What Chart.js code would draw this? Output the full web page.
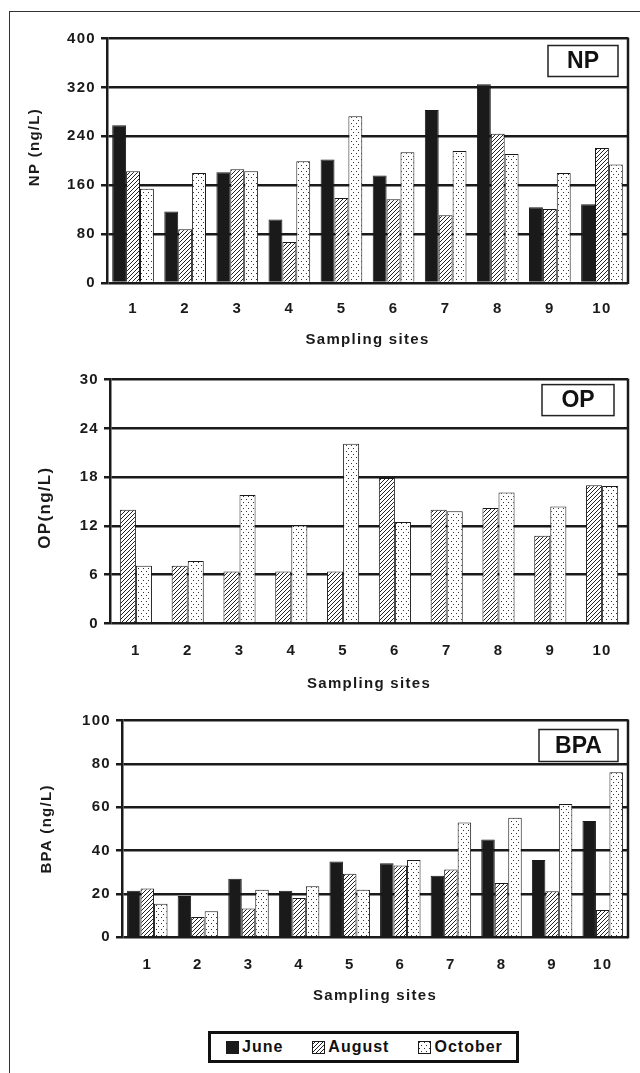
<!DOCTYPE html>
<html>
<head>
<meta charset="utf-8">
<script src="https://cdn.jsdelivr.net/npm/chart.js@4.4.1/dist/chart.umd.min.js"></script>
<style>
  html, body { margin: 0; padding: 0; background: #fff; }
  body { width: 640px; height: 1073px; position: relative; overflow: hidden; font-family: 'Liberation Sans', Arial, sans-serif; }
  .frame { position: absolute; left: 9px; top: 11px; width: 640px; height: 1070px; border-top: 1px solid #333; border-left: 1.5px solid #333; }
  canvas.chart { position: absolute; left: 0; }
  #legend { position: absolute; left: 208px; top: 1031px; width: 311px; height: 32px; box-sizing: border-box; border: 3px solid #111; display: flex; align-items: center; padding-left: 15px; font-weight: bold; font-size: 16px; letter-spacing: 1px; color: #111; }
  #legend .item { display: flex; align-items: center; margin-right: 29px; }
  #legend canvas { margin-right: 3px; }
</style>
</head>
<body>
<div class="frame"></div>
<canvas id="np" class="chart" width="640" height="346" style="top:14px"></canvas>
<canvas id="op" class="chart" width="640" height="340" style="top:360px"></canvas>
<canvas id="bpa" class="chart" width="640" height="320" style="top:700px"></canvas>
<div id="legend"></div>
<script>
  const sites = ['1', '2', '3', '4', '5', '6', '7', '8', '9', '10'];
  const seriesNames = ['June', 'August', 'October'];

  const npJune = [258, 117, 181, 104, 202, 176, 283, 325, 124, 129];
  const npAugust = [183, 88, 186, 67, 139, 137, 111, 244, 121, 221];
  const npOctober = [154, 180, 183, 199, 273, 214, 216, 211, 180, 194];

  // no June values for OP
  const opAugust = [14.0, 7.1, 6.4, 6.4, 6.4, 17.9, 14.0, 14.2, 10.8, 17.0];
  const opOctober = [7.1, 7.7, 15.8, 12.1, 22.1, 12.5, 13.8, 16.1, 14.4, 16.9];

  const bpaJune = [21.5, 19, 27, 21.5, 35, 34.2, 28.4, 45.1, 35.7, 53.7];
  const bpaAugust = [22.5, 9.4, 13.3, 18.1, 29.3, 33.1, 31.3, 25, 21.2, 12.6];
  const bpaOctober = [15.5, 12, 21.9, 23.5, 21.9, 35.6, 52.9, 55.2, 61.5, 76.1];

  const npTicks = [0, 80, 160, 240, 320, 400];
  const opTicks = [0, 6, 12, 18, 24, 30];
  const bpaTicks = [0, 20, 40, 60, 80, 100];

  const INK = '#1a1a1a';
  const FONT = "'Liberation Sans', Arial, sans-serif";

  function hatchPattern() {
    const c = document.createElement('canvas');
    c.width = 4; c.height = 4;
    const g = c.getContext('2d');
    g.fillStyle = '#fff';
    g.fillRect(0, 0, 4, 4);
    g.strokeStyle = '#222';
    g.lineWidth = 1;
    g.beginPath();
    g.moveTo(0, 4); g.lineTo(4, 0);
    g.moveTo(-1, 1); g.lineTo(1, -1);
    g.moveTo(3, 5); g.lineTo(5, 3);
    g.stroke();
    return g.createPattern(c, 'repeat');
  }

  function dotPattern() {
    const c = document.createElement('canvas');
    c.width = 5; c.height = 6;
    const g = c.getContext('2d');
    g.fillStyle = '#fff';
    g.fillRect(0, 0, 5, 6);
    g.fillStyle = '#333';
    g.fillRect(1, 1, 1, 1);
    g.fillRect(3, 4, 1, 1);
    return g.createPattern(c, 'repeat');
  }

  const fills = { June: INK, August: hatchPattern(), October: dotPattern() };

  // the scanned figure has wide, loosely spaced lettering
  const spacing = {
    id: 'spacing',
    beforeLayout(chart) { chart.ctx.letterSpacing = '1.3px'; },
    beforeDraw(chart) { chart.ctx.letterSpacing = '1.3px'; },
  };

  const boxLabel = {
    id: 'boxLabel',
    afterDraw(chart, args, o) {
      const { ctx, chartArea: a } = chart;
      const x = a.right - o.right - o.width;
      const y = a.top + o.top;
      ctx.save();
      ctx.letterSpacing = '0px';
      ctx.fillStyle = '#fff';
      ctx.fillRect(x, y, o.width, o.height);
      ctx.strokeStyle = '#222';
      ctx.lineWidth = 1.5;
      ctx.strokeRect(x, y, o.width, o.height);
      ctx.fillStyle = '#111';
      ctx.font = 'bold 23px ' + FONT;
      ctx.textAlign = 'center';
      ctx.textBaseline = 'middle';
      ctx.fillText(o.text, x + o.width / 2, y + o.height / 2 + 1);
      ctx.restore();
    },
  };

  const rightBorder = {
    id: 'rightBorder',
    beforeDatasetsDraw(chart) {
      const { ctx, chartArea: a } = chart;
      ctx.save();
      ctx.strokeStyle = INK;
      ctx.lineWidth = 2.5;
      ctx.beginPath();
      ctx.moveTo(a.right, a.top - 1);
      ctx.lineTo(a.right, a.bottom + 1);
      ctx.stroke();
      ctx.restore();
    },
  };

  function makeDataset(name, values, catPct) {
    return {
      label: name,
      data: values,
      backgroundColor: fills[name],
      borderColor: INK,
      borderWidth: 1,
      borderSkipped: 'bottom',
      categoryPercentage: catPct,
      barPercentage: 1,
    };
  }

  function makeChart(id, s) {
    return new Chart(document.getElementById(id), {
      type: 'bar',
      data: { labels: sites, datasets: s.datasets },
      plugins: [spacing, rightBorder, boxLabel],
      options: {
        responsive: false,
        animation: false,
        devicePixelRatio: 1,
        layout: { padding: s.padding },
        scales: {
          x: {
            grid: { display: false },
            border: { display: false },
            ticks: { color: INK, padding: s.xTickPad, font: { family: FONT, size: 15, weight: 'bold' } },
            title: { display: true, text: 'Sampling sites', color: INK, padding: 0, font: { family: FONT, size: 15, weight: 'bold' } },
            afterFit: (sc) => { sc.height = s.xHeight; },
          },
          y: {
            min: 0,
            max: s.ticks[s.ticks.length - 1],
            afterBuildTicks: (sc) => { sc.ticks = s.ticks.map((v) => ({ value: v })); },
            grid: { color: INK, lineWidth: 2.5, tickLength: 6 },
            border: { color: INK, width: 2.5 },
            ticks: { color: INK, padding: 5, font: { family: FONT, size: 15, weight: 'bold' } },
            title: { display: true, text: s.yTitle, color: INK, padding: 0, font: { family: FONT, size: s.yTitleSize, weight: 'bold' } },
            afterFit: (sc) => { sc.width = s.yWidth; },
          },
        },
        plugins: {
          legend: { display: false },
          tooltip: { enabled: false },
          boxLabel: s.box,
        },
      },
    });
  }

  makeChart('np', {
    datasets: [
      makeDataset('June', npJune, 0.8),
      makeDataset('August', npAugust, 0.8),
      makeDataset('October', npOctober, 0.8),
    ],
    ticks: npTicks,
    yTitle: '     NP (ng/L)',
    yTitleSize: 15,
    padding: { top: 24.5, left: 26, right: 12, bottom: 11 },
    yWidth: 81,
    xHeight: 66,
    xTickPad: 9,
    box: { text: 'NP', right: 10, top: 7, width: 70, height: 31 },
  });

  makeChart('op', {
    datasets: [
      makeDataset('August', opAugust, 0.62),
      makeDataset('October', opOctober, 0.62),
    ],
    ticks: opTicks,
    yTitle: 'OP(ng/L)  ',
    yTitleSize: 17,
    padding: { top: 19.6, left: 35, right: 12, bottom: 7.5 },
    yWidth: 75,
    xHeight: 69,
    xTickPad: 10,
    box: { text: 'OP', right: 14, top: 5, width: 72, height: 31 },
  });

  makeChart('bpa', {
    datasets: [
      makeDataset('June', bpaJune, 0.8),
      makeDataset('August', bpaAugust, 0.8),
      makeDataset('October', bpaOctober, 0.8),
    ],
    ticks: bpaTicks,
    yTitle: 'BPA (ng/L)',
    yTitleSize: 15,
    padding: { top: 20.5, left: 38, right: 12, bottom: 15 },
    yWidth: 84,
    xHeight: 67.7,
    xTickPad: 11,
    box: { text: 'BPA', right: 10, top: 9, width: 79, height: 32 },
  });

  // shared legend under the last chart
  const legendEl = document.getElementById('legend');
  seriesNames.forEach((name) => {
    const item = document.createElement('div');
    item.className = 'item';
    const sw = document.createElement('canvas');
    sw.width = 13; sw.height = 13;
    const g = sw.getContext('2d');
    g.fillStyle = fills[name];
    g.fillRect(0, 0, 13, 13);
    g.strokeStyle = INK;
    g.lineWidth = 1;
    g.strokeRect(0.5, 0.5, 12, 12);
    const label = document.createElement('span');
    label.textContent = name;
    item.appendChild(sw);
    item.appendChild(label);
    legendEl.appendChild(item);
  });
</script>
</body>
</html>
